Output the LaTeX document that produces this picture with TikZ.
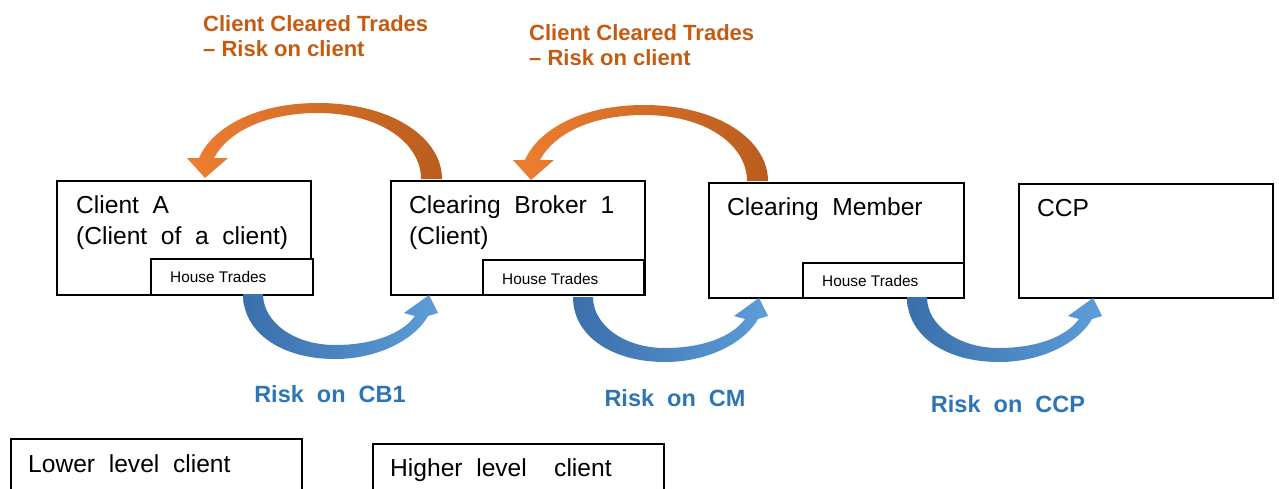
\documentclass[tikz,border=0pt]{standalone}
\usepackage{fontspec}
\setmainfont{Liberation Sans}
\newfontfamily\widesans{Liberation Sans}[WordSpace=2]
\definecolor{ortxt}{HTML}{C55A11}
\definecolor{bltxt}{HTML}{2E75B6}
\definecolor{orlight}{HTML}{EE7E31}
\definecolor{ordark}{HTML}{B95D1E}
\definecolor{bldark}{HTML}{3A6FAA}
\definecolor{bllight}{HTML}{5D9DD8}
\newcommand\bluearrow[2]{%
  \shade[shift={(#1,#2)}, left color=bldark, right color=bllight]
    (243,294) .. controls (243,333) and (282,359) .. (335,359)
    .. controls (380,359) and (416,338) .. (428,316)
    -- (438,313) -- (429,295) -- (404,313) -- (415,316)
    .. controls (402,334) and (372,345) .. (335,345)
    .. controls (294,345) and (263,322) .. (263,294) -- cycle;}
\newcommand\orangearrow[2]{%
  \shade[shift={(#1,#2)}, left color=orlight, right color=ordark]
    (442,179) .. controls (442,138) and (392,103) .. (318,103)
    .. controls (255,103) and (212,128) .. (199,158)
    -- (187,158) -- (205,178) -- (228,158) -- (214,158)
    .. controls (228,132) and (265,113) .. (318,113)
    .. controls (380,113) and (421,143) .. (421,179) -- cycle;}
\begin{document}
\begin{tikzpicture}[x=1pt,y=-1pt,
  box/.style={draw=black, line width=1.5pt, fill=white, inner sep=0pt, anchor=north west},
  boxtext/.style={anchor=north west, inner sep=0pt, align=left, font=\widesans\fontsize{24.6}{31}\selectfont},
  htext/.style={anchor=base west, inner sep=0pt, font=\fontsize{15.4}{18}\selectfont},
  otext/.style={anchor=north west, inner sep=0pt, align=left, text=ortxt, font=\bfseries\fontsize{22}{25}\selectfont},
  btext/.style={anchor=base, inner sep=0pt, text=bltxt, font=\widesans\bfseries\fontsize{23.5}{28}\selectfont}]
\useasboundingbox (0,0) rectangle (1279,488);
\clip (0,0) rectangle (1279,488);

% main boxes
\node[box, minimum width=254pt, minimum height=114pt] (ca) at (56,180) {};
\node[box, minimum width=162pt, minimum height=36pt] (cah) at (150,258) {};
\node[box, minimum width=254pt, minimum height=114pt] (cb) at (390,180) {};
\node[box, minimum width=161pt, minimum height=35pt] (cbh) at (482,259) {};
\node[box, minimum width=255pt, minimum height=115pt] (cm) at (708,182) {};
\node[box, minimum width=161pt, minimum height=35pt] (cmh) at (802,262) {};
\node[box, minimum width=254pt, minimum height=114pt] (ccp) at (1018,183) {};

% box texts
\node[boxtext] (ca-t) at (76,195) {Client A\\(Client of a client)};
\node[htext] (cah-t) at (170,282) {House Trades};
\node[boxtext] (cb-t) at (409,195) {Clearing Broker 1\\(Client)};
\node[htext] (cbh-t) at (502,284) {House Trades};
\node[boxtext] (cm-t) at (727,197) {Clearing Member};
\node[htext] (cmh-t) at (822,286) {House Trades};
\node[boxtext] (ccp-t) at (1037,199) {CCP};

% orange arrows and labels
\orangearrow{0}{0}
\orangearrow{326}{2}
\node[otext] (o1) at (203,15) {Client Cleared Trades\\– Risk on client};
\node[otext] (o2) at (529,24) {Client Cleared Trades\\– Risk on client};

% blue arrows and labels
\bluearrow{0}{0}
\bluearrow{330}{3}
\bluearrow{664}{3}
\node[btext] (b1) at (330,402) {Risk on CB1};
\node[btext] (b2) at (675,406) {Risk on CM};
\node[btext] (b3) at (1008,412) {Risk on CCP};

% legend boxes
\node[box, minimum width=291pt, minimum height=70pt] (low) at (10,438) {};
\node[box, minimum width=291pt, minimum height=70pt] (high) at (372,443) {};
\node[boxtext, anchor=base west] (low-t) at (28,472) {Lower level client};
\node[boxtext, anchor=base west] (high-t) at (390,476) {Higher level~ client};
\end{tikzpicture}
\end{document}
